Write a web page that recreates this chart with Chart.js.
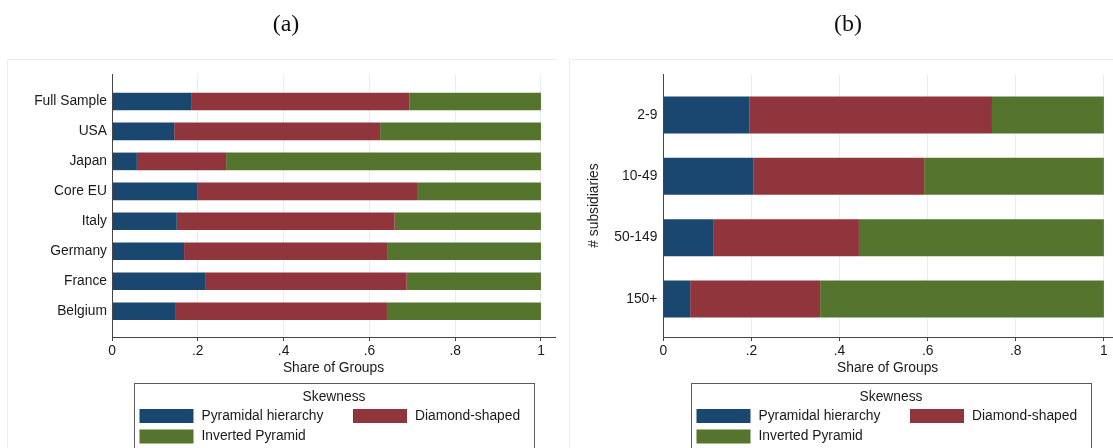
<!DOCTYPE html>
<html>
<head>
<meta charset="utf-8">
<script src="https://cdn.jsdelivr.net/npm/chart.js@4.4.1/dist/chart.umd.min.js"></script>
<style>
  html, body { margin: 0; padding: 0; background: #ffffff; }
  #wrap { position: relative; width: 1113px; height: 448px; overflow: hidden; }
  canvas { position: absolute; top: 0; }
  #chartA { left: 0; width: 557px; height: 448px; }
  #chartB { left: 557px; width: 556px; height: 448px; }
</style>
</head>
<body>
<div id="wrap">
  <canvas id="chartA" width="557" height="448"></canvas>
  <canvas id="chartB" width="556" height="448"></canvas>
</div>
<script>
// Panel (a): share of groups by skewness, per country sample
const countries = ['Full Sample', 'USA', 'Japan', 'Core EU', 'Italy', 'Germany', 'France', 'Belgium'];
const pyramidalByCountry = [0.186, 0.145, 0.058, 0.200, 0.151, 0.168, 0.217, 0.147];
const diamondByCountry   = [0.507, 0.480, 0.208, 0.511, 0.508, 0.475, 0.470, 0.494];
const invertedByCountry  = [0.307, 0.375, 0.734, 0.289, 0.341, 0.357, 0.313, 0.359];

// Panel (b): share of groups by skewness, per number of subsidiaries
const sizeClasses = ['2-9', '10-49', '50-149', '150+'];
const pyramidalBySize = [0.195, 0.204, 0.113, 0.061];
const diamondBySize   = [0.551, 0.388, 0.331, 0.295];
const invertedBySize  = [0.254, 0.408, 0.556, 0.644];

// Shared axis ticks
const xTickValues = [0, 0.2, 0.4, 0.6, 0.8, 1];
const xTickLabels = ['0', '.2', '.4', '.6', '.8', '1'];
const seriesNames = ['Pyramidal hierarchy', 'Diamond-shaped', 'Inverted Pyramid'];
const seriesColors = ['#1a476f', '#90353b', '#55752f'];

const FONT = '"Liberation Sans", Arial, Helvetica, sans-serif';
const TEXT = '#1a1a1a';
const AXIS = '#444444';
const GRID = '#e6eef0';

Chart.defaults.font.family = FONT;
Chart.defaults.font.size = 13.8;
Chart.defaults.color = TEXT;

// Faint outer frame of each graph region
const regionFrame = {
  id: 'regionFrame',
  beforeDraw(chart, args, opts) {
    const ctx = chart.ctx;
    ctx.save();
    ctx.strokeStyle = '#ededed';
    ctx.lineWidth = 1;
    ctx.beginPath();
    ctx.moveTo(opts.x + 0.5, chart.height);
    ctx.lineTo(opts.x + 0.5, opts.y + 0.5);
    ctx.lineTo(chart.width, opts.y + 0.5);
    ctx.stroke();
    ctx.restore();
  }
};

// Boxed legend with a "Skewness" heading, two entries per row
const skewLegend = {
  id: 'skewLegend',
  afterDraw(chart, args, opts) {
    const ctx = chart.ctx;
    const L = opts.left, T = opts.top, W = opts.width;
    ctx.save();
    ctx.strokeStyle = '#5c5c5c';
    ctx.lineWidth = 1;
    ctx.strokeRect(L + 0.5, T + 0.5, W, 120);
    ctx.font = '13.8px ' + FONT;
    ctx.textBaseline = 'middle';
    ctx.fillStyle = TEXT;
    ctx.textAlign = 'center';
    ctx.fillText(opts.title, L + W / 2, T + 13.7);
    const slots = [[5.5, 0], [219, 0], [5.5, 1]];
    chart.data.datasets.forEach((ds, i) => {
      const [dx, row] = slots[i];
      const cy = T + 33 + row * 20.5;
      ctx.fillStyle = ds.backgroundColor;
      ctx.fillRect(L + dx, cy - 7, 54, 14);
      ctx.fillStyle = TEXT;
      ctx.textAlign = 'left';
      ctx.fillText(ds.label, L + dx + 62, cy);
    });
    ctx.restore();
  }
};

function buildDatasets(series) {
  return series.map((values, k) => ({
    label: seriesNames[k],
    data: values.map((v, i) => ({ x: v, y: i })),
    backgroundColor: seriesColors[k],
    borderWidth: 0
  }));
}

function makePanel(canvasId, cfg) {
  return new Chart(document.getElementById(canvasId), {
    type: 'bar',
    data: {
      labels: cfg.categories,
      datasets: buildDatasets(cfg.series)
    },
    options: {
      indexAxis: 'y',
      responsive: false,
      animation: false,
      events: [],
      categoryPercentage: 1,
      barPercentage: cfg.barPct,
      layout: { padding: { left: cfg.padLeft, right: cfg.padRight, top: 0, bottom: 72 } },
      scales: {
        x: {
          type: 'linear',
          stacked: true,
          offset: false,
          min: 0,
          max: cfg.xMax,
          afterBuildTicks: (scale) => { scale.ticks = xTickValues.map(v => ({ value: v })); },
          afterFit: (scale) => { scale.height = 39; },
          ticks: {
            padding: 2,
            color: TEXT,
            font: { size: 13.8 },
            maxRotation: 0,
            callback: (value, index) => xTickLabels[index]
          },
          grid: {
            offset: false,
            color: (c) => (c.tick && c.tick.value === 0) ? 'rgba(0,0,0,0)' : GRID,
            lineWidth: 1,
            tickLength: 4,
            tickColor: AXIS,
            drawTicks: true
          },
          border: { display: true, color: AXIS, width: 1, z: 1 },
          title: {
            display: true,
            text: 'Share of Groups',
            color: TEXT,
            font: { size: 13.8 },
            padding: { top: 0, bottom: 0 }
          }
        },
        y: {
          type: 'linear',
          stacked: true,
          offset: false,
          reverse: true,
          min: cfg.yMin,
          max: cfg.yMax,
          afterBuildTicks: (scale) => { scale.ticks = cfg.categories.map((c, i) => ({ value: i })); },
          afterFit: (scale) => { scale.width = cfg.yWidth; },
          ticks: {
            padding: cfg.yLabelPad,
            color: TEXT,
            font: { size: 13.8 },
            callback: (value) => cfg.categories[value]
          },
          grid: { display: false, drawTicks: false, tickLength: 0, offset: false },
          border: { display: true, color: AXIS, width: 1, z: 1 },
          title: {
            display: !!cfg.yTitle,
            text: cfg.yTitle || '',
            color: TEXT,
            font: { size: 13.8 },
            padding: { top: cfg.yTitlePad, bottom: 0 }
          }
        }
      },
      plugins: {
        legend: { display: false },
        tooltip: { enabled: false },
        title: {
          display: true,
          text: cfg.title,
          color: '#111111',
          font: { family: '"Liberation Serif", "DejaVu Serif", serif', size: 24, weight: 'normal', lineHeight: 1.2 },
          padding: { top: 10.6, bottom: 34.6 }
        },
        regionFrame: cfg.frame,
        skewLegend: { left: 134, top: 383, width: 400, title: 'Skewness' }
      }
    },
    plugins: [regionFrame, skewLegend]
  });
}

makePanel('chartA', {
  title: '(a)',
  categories: countries,
  series: [pyramidalByCountry, diamondByCountry, invertedByCountry],
  barPct: 0.587,
  padLeft: 17,
  padRight: 2,
  yWidth: 95,
  yLabelPad: 5,
  yMin: -0.916,
  yMax: 7.86,
  xMax: 1.0327,
  frame: { x: 7, y: 59 }
});

makePanel('chartB', {
  title: '(b)',
  categories: sizeClasses,
  series: [pyramidalBySize, diamondBySize, invertedBySize],
  barPct: 0.603,
  padLeft: 27,
  padRight: 1,
  yWidth: 79.3,
  yLabelPad: 6,
  yMin: -0.667,
  yMax: 3.619,
  xMax: 1.0184,
  yTitle: '# subsidiaries',
  yTitlePad: 1.7,
  frame: { x: 12, y: 59 }
});
</script>
</body>
</html>
